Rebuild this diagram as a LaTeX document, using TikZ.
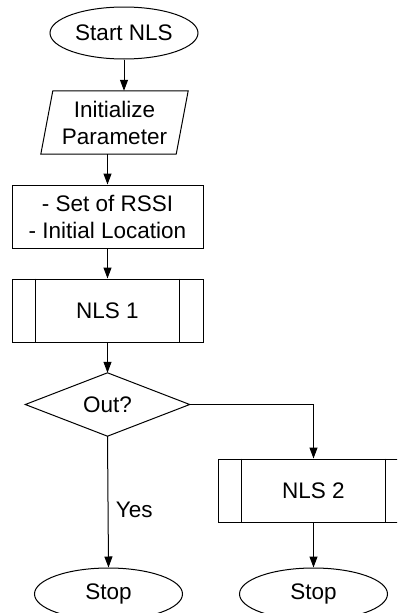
\documentclass[tikz,border=0pt]{standalone}
\usepackage{fontspec}
\setmainfont{Liberation Sans}
\usetikzlibrary{shapes.geometric,arrows.meta}
\begin{document}
\begin{tikzpicture}[x=1pt,y=-1pt,
  every node/.style={font=\fontsize{22.5}{27}\selectfont},
  line/.style={line width=1pt},
  terminal/.style={ellipse,draw,line width=1pt,minimum width=148pt,minimum height=52pt,inner sep=0pt},
  box/.style={rectangle,draw,line width=1pt,minimum width=191pt,minimum height=63pt,inner sep=0pt,align=center},
  blank/.style={rectangle,minimum width=#1,minimum height=63pt,inner sep=0pt,align=center},
  flow/.style={line width=1pt,-{Triangle[length=11pt,width=8pt]}}
]
\useasboundingbox (0,0) rectangle (397,613);
\clip (0,0) rectangle (397,613);

% nodes
\node[terminal] (start) at (124,33) {Start NLS};
\node[blank=135pt] (init) at (114.5,122.5) {Initialize\\Parameter};
\node[box] (info) at (107.5,216.5) {- Set of RSSI\\- Initial Location};
\node[box] (nls1) at (107.5,310.5) {NLS 1};
\node[blank=164pt] (out) at (107.5,404.5) {Out?};
\node[box] (nls2) at (313.5,490.5) {NLS 2};
\node[terminal] (stop1) at (108.5,594) {Stop};
\node[terminal] (stop2) at (313.5,594) {Stop};

% input parallelogram
\draw[line] ([xshift=6pt]init.north west) -- ([xshift=6pt]init.north east)
  -- ([xshift=-6pt]init.south east) -- ([xshift=-6pt]init.south west) -- cycle;

% decision diamond
\draw[line] (out.north) -- (out.east) -- (out.south) -- (out.west) -- cycle;

% predefined-process side bars
\foreach \p in {nls1,nls2}{
  \draw[line] ([xshift=24pt]\p.north west) -- ([xshift=24pt]\p.south west);
  \draw[line] ([xshift=-24pt]\p.north east) -- ([xshift=-24pt]\p.south east);
}

% connectors
\draw[flow] (start.south) -- (start.south |- init.north);
\draw[flow] (info.north |- init.south) -- (info.north);
\draw[flow] (info.south) -- (nls1.north);
\draw[flow] (nls1.south) -- (out.north);
\draw[flow] (out.south) -- node[right=4pt,pos=0.56] (yes) {Yes} (stop1.north);
\draw[flow] (out.east) -| (nls2.north);
\draw[flow] (nls2.south) -- (stop2.north);
\end{tikzpicture}
\end{document}
